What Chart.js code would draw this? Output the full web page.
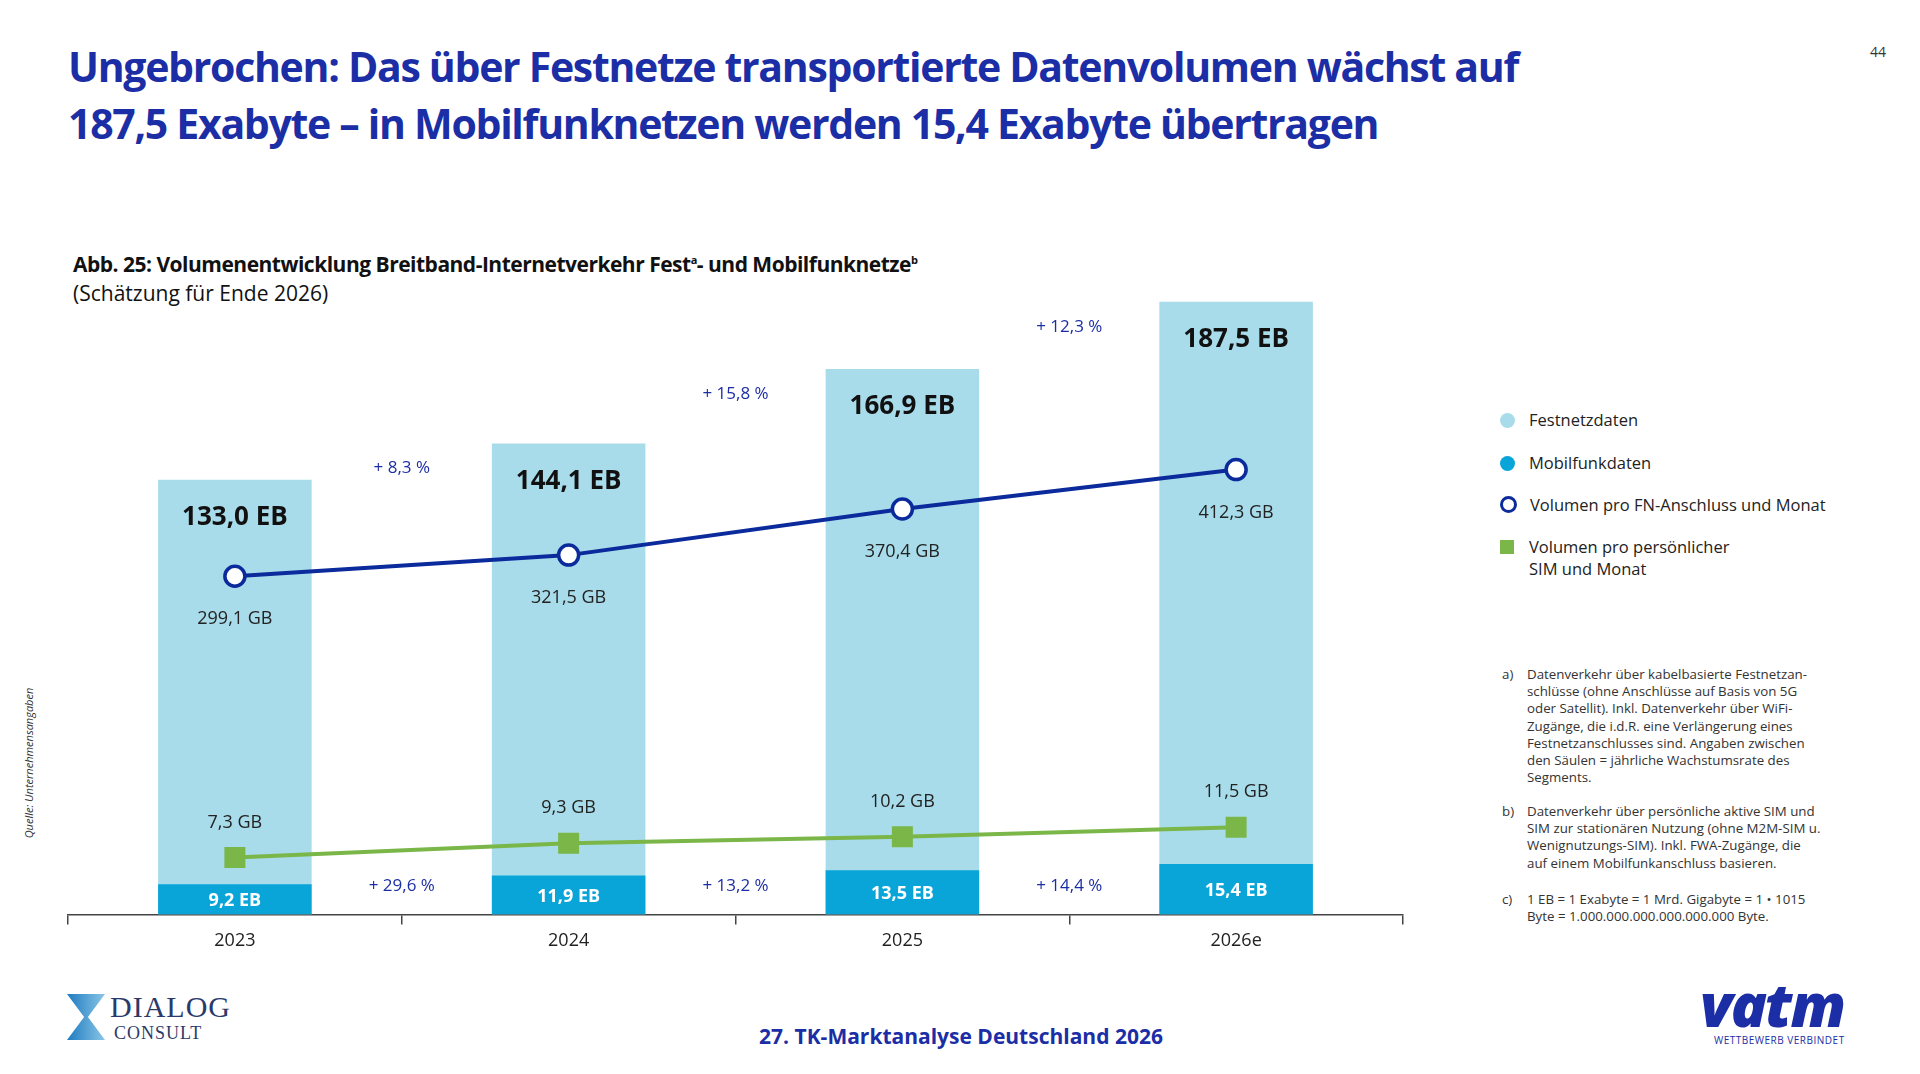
<!DOCTYPE html>
<html><head><meta charset="utf-8">
<script src="https://cdn.jsdelivr.net/npm/chart.js@4/dist/chart.umd.min.js"></script>
<style>
body{margin:0;width:1920px;height:1074px;background:#fff;font-family:"Open Sans",sans-serif;position:relative;overflow:hidden}
.a{position:absolute;white-space:nowrap}
h1{position:absolute;left:68px;top:38px;margin:0;font:700 41px/57px "Open Sans";color:#1b2ea5;letter-spacing:-1.3px}
.leg{font-size:16.5px;color:#222}
.fn{font-size:13.3px;line-height:17.2px;color:#333}
</style></head><body>
<h1>Ungebrochen: Das über Festnetze transportierte Datenvolumen wächst auf<br>187,5 Exabyte – in Mobilfunknetzen werden 15,4 Exabyte übertragen</h1>
<div class="a" style="left:1870px;top:42px;font-size:14px;color:#333">44</div>
<div class="a" style="left:73px;top:250px;font-size:21px;font-weight:700;color:#111;letter-spacing:-0.5px">Abb. 25: Volumenentwicklung Breitband-Internetverkehr Fest<sup style="font-size:11px">a</sup>- und Mobilfunknetze<sup style="font-size:11px">b</sup></div>
<div class="a" style="left:73px;top:279px;font-size:21px;color:#111">(Schätzung für Ende 2026)</div>
<div class="a" style="left:28px;top:763px;font-size:11px;font-style:italic;color:#333;transform:translate(-50%,-50%) rotate(-90deg);transform-origin:center">Quelle: Unternehmensangaben</div>

<div class="a leg" style="left:1500px;top:408px"><span style="display:inline-block;width:15px;height:15px;border-radius:50%;background:#a8dcea;vertical-align:-2px;margin-right:14px"></span>Festnetzdaten</div>
<div class="a leg" style="left:1500px;top:451px"><span style="display:inline-block;width:15px;height:15px;border-radius:50%;background:#0aa5d8;vertical-align:-2px;margin-right:14px"></span>Mobilfunkdaten</div>
<div class="a leg" style="left:1500px;top:493px"><span style="display:inline-block;width:11px;height:11px;border-radius:50%;border:3px solid #0b2a9b;vertical-align:-2px;margin-right:13px"></span>Volumen pro FN-Anschluss und Monat</div>
<div class="a leg" style="left:1500px;top:536px;line-height:22px"><span style="display:inline-block;width:14px;height:14px;background:#7ab648;vertical-align:-1px;margin-right:15px"></span>Volumen pro persönlicher<br><span style="margin-left:29px">SIM und Monat</span></div>

<div class="a fn" style="left:1502px;top:666px">a)</div>
<div class="a fn" style="left:1527px;top:666px">Datenverkehr über kabelbasierte Festnetzan-<br>schlüsse (ohne Anschlüsse auf Basis von 5G<br>oder Satellit). Inkl. Datenverkehr über WiFi-<br>Zugänge, die i.d.R. eine Verlängerung eines<br>Festnetzanschlusses sind. Angaben zwischen<br>den Säulen = jährliche Wachstumsrate des<br>Segments.</div>
<div class="a fn" style="left:1502px;top:803px">b)</div>
<div class="a fn" style="left:1527px;top:803px">Datenverkehr über persönliche aktive SIM und<br>SIM zur stationären Nutzung (ohne M2M-SIM u.<br>Wenignutzungs-SIM). Inkl. FWA-Zugänge, die<br>auf einem Mobilfunkanschluss basieren.</div>
<div class="a fn" style="left:1502px;top:891px">c)</div>
<div class="a fn" style="left:1527px;top:891px">1 EB = 1 Exabyte = 1 Mrd. Gigabyte = 1 • 1015<br>Byte = 1.000.000.000.000.000.000 Byte.</div>

<div class="a" style="left:961px;top:1022px;transform:translateX(-50%);font-size:21px;font-weight:700;color:#1b2ea5">27. TK-Marktanalyse Deutschland 2026</div>
<div class="a" style="left:67px;top:994px;width:38px;height:46px;background:linear-gradient(90deg,#1e7bbf,#8ac6e8);clip-path:polygon(0 0,45% 50%,0 100%,100% 100%,55% 50%,100% 0)"></div>
<div class="a" style="left:110px;top:992px;font:30px/30px 'Liberation Serif';color:#2a3a6a;letter-spacing:1px">DIALOG</div>
<div class="a" style="left:114px;top:1024px;font:18px/18px 'Liberation Serif';color:#2a3a6a;letter-spacing:1px">CONSULT</div>
<div class="a" style="left:1700px;top:975px;font:italic 800 60px/58px 'Open Sans';color:#1b2ea5;letter-spacing:-2px">vatm</div>
<div class="a" style="left:1714px;top:1033px;font-size:10px;color:#1b2ea5;letter-spacing:0.5px">WETTBEWERB VERBINDET</div>

<div class="a" style="left:52px;top:258px;width:1367px;height:700px"><canvas id="c"></canvas></div>
<script>
const years = ['2023', '2024', '2025', '2026e'];
const fixedEB = [133.0, 144.1, 166.9, 187.5];
const mobileEB = [9.2, 11.9, 13.5, 15.4];
const fnGB = [299.1, 321.5, 370.4, 412.3];
const simGB = [7.3, 9.3, 10.2, 11.5];
const fixedGrowth = ['+ 8,3 %', '+ 15,8 %', '+ 12,3 %'];
const mobileGrowth = ['+ 29,6 %', '+ 13,2 %', '+ 14,4 %'];

const fmt = v => v.toFixed(1).replace('.', ',');

// draws all value labels from the scales
const labels = {
  id: 'labels',
  afterDatasetsDraw(chart) {
    const c = chart.ctx, x = chart.scales.x, y = chart.scales.y;
    const y1 = chart.scales.y1, y2 = chart.scales.y2;
    c.save();
    c.textAlign = 'center'; c.textBaseline = 'middle';
    years.forEach((yr, i) => {
      const px = x.getPixelForValue(i);
      c.font = '700 26px "Open Sans"'; c.fillStyle = '#111';
      c.fillText(fmt(fixedEB[i]) + ' EB', px, y.getPixelForValue(fixedEB[i]) + 38);
      c.font = '700 18px "Open Sans"'; c.fillStyle = '#fff';
      c.fillText(fmt(mobileEB[i]) + ' EB', px, (y.getPixelForValue(mobileEB[i]) + y.getPixelForValue(0)) / 2 + 2);
      c.font = '18px "Open Sans"'; c.fillStyle = '#222';
      c.fillText(fmt(fnGB[i]) + ' GB', px, y1.getPixelForValue(fnGB[i]) + 43);
      c.fillText(fmt(simGB[i]) + ' GB', px, y2.getPixelForValue(simGB[i]) - 35);
    });
    c.font = '17px "Open Sans"'; c.fillStyle = '#1b2ea5';
    fixedGrowth.forEach((t, i) => {
      const px = (x.getPixelForValue(i) + x.getPixelForValue(i + 1)) / 2;
      c.fillText(t, px, y.getPixelForValue(fixedEB[i + 1]) + 25);
      c.fillText(mobileGrowth[i], px, y.getPixelForValue(0) - 28);
    });
    c.restore();
  }
};

new Chart(document.getElementById('c'), {
  data: {
    labels: years,
    datasets: [
      { type: 'line', data: fnGB, yAxisID: 'y1', borderColor: '#0b2a9b', borderWidth: 4,
        pointRadius: 10, pointBorderWidth: 3.5, pointBackgroundColor: '#fff', pointBorderColor: '#0b2a9b', order: 0 },
      { type: 'line', data: simGB, yAxisID: 'y2', borderColor: '#7ab648', borderWidth: 4,
        pointStyle: 'rect', pointRadius: 12, pointBackgroundColor: '#7ab648', pointBorderColor: '#7ab648', order: 0 },
      { type: 'bar', data: mobileEB, backgroundColor: '#0aa5d8', grouped: false, barPercentage: 0.46, categoryPercentage: 1, order: 1 },
      { type: 'bar', data: fixedEB, backgroundColor: '#a8dcea', grouped: false, barPercentage: 0.46, categoryPercentage: 1, order: 2 }
    ]
  },
  options: {
    responsive: true, maintainAspectRatio: false, animation: false,
    layout: { padding: 0 },
    plugins: { legend: { display: false }, tooltip: { enabled: false } },
    scales: {
      x: {
        grid: { offset: true, drawOnChartArea: false, tickLength: 10, color: '#444', lineWidth: 1.5 },
        border: { color: '#444', width: 1.5 },
        ticks: { color: '#222', font: { size: 18, family: 'Open Sans' }, padding: 6 }
      },
      y: { display: false, min: 0, max: 196 },
      y1: { display: false, min: -60, max: 620 },
      y2: { display: false, min: -0.6, max: 88.4 }
    }
  },
  plugins: [labels]
});
</script>
</body></html>
